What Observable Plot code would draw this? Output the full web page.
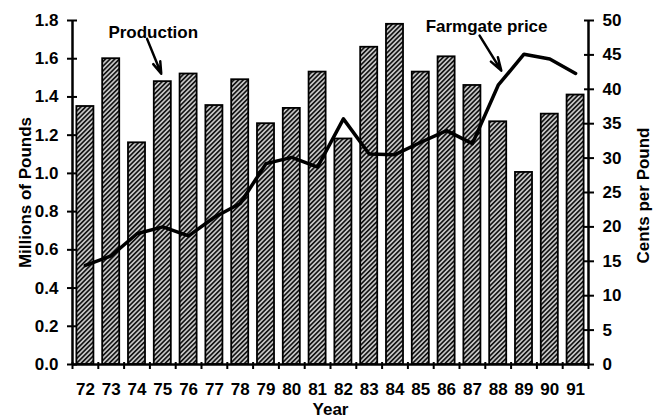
<!DOCTYPE html>
<html><head><meta charset="utf-8">
<script src="https://cdn.jsdelivr.net/npm/d3@7"></script>
<script src="https://cdn.jsdelivr.net/npm/@observablehq/plot@0.6"></script>
<style>body{margin:0;background:#fff} svg{display:block}</style>
</head><body><div id="chart"></div>
<script>
const years = [72,73,74,75,76,77,78,79,80,81,82,83,84,85,86,87,88,89,90,91];
const production = [1.35,1.60,1.16,1.48,1.52,1.355,1.49,1.26,1.34,1.53,1.18,1.66,1.78,1.53,1.61,1.46,1.27,1.005,1.31,1.41];
const price = [14.4,15.8,19.0,20.0,18.7,21.4,23.4,29.2,30.1,28.7,35.7,30.6,30.5,32.3,34.0,32.1,40.6,45.1,44.4,42.3];
const leftTicks = [0,0.2,0.4,0.6,0.8,1.0,1.2,1.4,1.6,1.8];
const rightTicks = [0,5,10,15,20,25,30,35,40,45,50];
const xDomain = [71.5, 91.5];
const boundaries = d3.range(xDomain[0], xDomain[1] + 0.5, 1);
const annotations = [
  {label: "Production", x: 74.63, y: 1.738, x1: 74.39, y1: 1.704, x2: 74.94, y2: 1.521},
  {label: "Farmgate price", x: 87.55, y: 1.766, x1: 87.28, y1: 1.721, x2: 88.12, y2: 1.538}
];
const k = 1.8 / 50;
const data = years.map((year, i) => ({year, production: production[i], price: price[i]}));
const font = "'Liberation Sans', Arial, Helvetica, sans-serif";

const chart = Plot.plot({
  width: 661, height: 418,
  marginTop: 20, marginBottom: 54, marginLeft: 72, marginRight: 73,
  style: {fontFamily: font, fontSize: "17px", fontWeight: "bold", color: "black", background: "white"},
  x: {domain: xDomain, axis: null},
  y: {domain: [0, 1.8], axis: null, label: null},
  marks: [
    Plot.rectY(data, {x1: d => d.year - 0.33, x2: d => d.year + 0.33, y1: 0, y2: "production",
      fill: "url(#hatch)", stroke: "black", strokeWidth: 1.8}),
    Plot.line(data, {x: "year", y: d => d.price * k, curve: "linear", stroke: "black", strokeWidth: 3.5,
      strokeLinejoin: "round", strokeLinecap: "round"}),
    Plot.ruleX(xDomain, {stroke: "black", strokeWidth: 2.5}),
    Plot.ruleY([0], {stroke: "black", strokeWidth: 2.5}),
    Plot.axisX(boundaries, {tickSize: 7, dy: -2, tickFormat: () => "", strokeWidth: 2, label: null}),
    Plot.axisX(years, {tickSize: 0, tickPadding: 18, tickFormat: d => String(d), fontSize: 17, label: null}),
    Plot.axisY(leftTicks, {anchor: "left", tickSize: 10, dx: 5, tickPadding: 9, strokeWidth: 2,
      tickFormat: d3.format(".1f"), fontSize: 17, label: null}),
    Plot.axisY(rightTicks.map(v => v * k), {anchor: "right", tickSize: 10, dx: -5, tickPadding: 9, strokeWidth: 2,
      tickFormat: d => String(Math.round(d / k)), fontSize: 17, label: null}),
    Plot.text(annotations, {x: "x", y: "y", text: "label", fontSize: 17}),
    Plot.arrow(annotations, {x1: "x1", y1: "y1", x2: "x2", y2: "y2", stroke: "black", strokeWidth: 2.5, headLength: 10, headAngle: 35}),
    Plot.text(["Millions of Pounds"], {frameAnchor: "left", textAnchor: "middle", text: d => d, rotate: -90, dx: -47, fontSize: 17}),
    Plot.text(["Cents per Pound"], {frameAnchor: "right", textAnchor: "middle", text: d => d, rotate: -90, dx: 55, dy: 3, fontSize: 17}),
    Plot.text(["Year"], {frameAnchor: "bottom", text: d => d, dy: 50, fontSize: 17})
  ]
});

const defs = d3.select(chart).insert("defs", ":first-child");
const pat = defs.append("pattern").attr("id", "hatch").attr("patternUnits", "userSpaceOnUse")
  .attr("width", 3.3).attr("height", 3.3).attr("patternTransform", "rotate(45)");
pat.append("rect").attr("width", 3.3).attr("height", 3.3).attr("fill", "#c4c4c4");
pat.append("rect").attr("width", 1.6).attr("height", 3.3).attr("fill", "#111");

document.getElementById("chart").appendChild(chart);
</script>
</body></html>
